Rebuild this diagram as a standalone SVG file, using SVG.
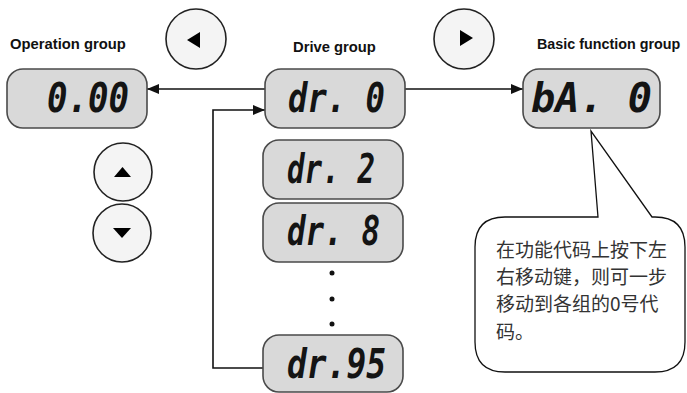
<svg xmlns="http://www.w3.org/2000/svg" width="687" height="393" viewBox="0 0 687 393">
<style>
.lbl{font-family:"Liberation Sans",Arial,sans-serif;font-weight:bold;font-size:15.5px;fill:#111}
.box{fill:#d9d9d9;stroke:#4a4a4a;stroke-width:1.6}
.seg{font-family:"DejaVu Sans Mono",monospace;font-weight:bold;font-style:italic;font-size:40px;fill:#141414}
.btn{fill:#f4f4f4;stroke:#222;stroke-width:1.6}
.tri{fill:#000}
.con{fill:none;stroke:#111;stroke-width:1.6}
.note{font-family:"Noto Sans CJK SC",sans-serif;font-size:19px;fill:#333}
</style>
<defs>
<marker id="ah" markerWidth="12" markerHeight="10" refX="12" refY="5" orient="auto" markerUnits="userSpaceOnUse">
<path d="M0,0 L12,5 L0,10 Z" fill="#111"/>
</marker>
</defs>
<text class="lbl" transform="translate(10,49) scale(0.955,1)">Operation group</text>
<text class="lbl" transform="translate(293,52) scale(0.954,1)">Drive group</text>
<text class="lbl" transform="translate(537,49) scale(0.925,1)">Basic function group</text>

<g id="connectors">
<path class="con" d="M265,89 H147" marker-end="url(#ah)"/>
<path class="con" d="M405,89 H523" marker-end="url(#ah)"/>
<path class="con" d="M263,368 H213 V110 H265" marker-end="url(#ah)"/>
</g>

<g id="btn-left"><circle class="btn" cx="196" cy="39" r="30"/><path class="tri" d="M187,40 L200,32 L200,48 Z"/></g>
<g id="btn-right"><circle class="btn" cx="464" cy="39" r="30"/><path class="tri" d="M473,38 L460,30 L460,46 Z"/></g>
<g id="btn-up"><circle class="btn" cx="123" cy="172" r="29"/><path class="tri" d="M114,177 L131,177 L122.5,167 Z"/></g>
<g id="btn-down"><circle class="btn" cx="122" cy="233" r="29"/><path class="tri" d="M113,228 L131,228 L122,238 Z"/></g>

<g id="op"><rect class="box" x="7" y="69" width="140" height="59" rx="16"/><text class="seg" x="47" y="112" textLength="82" lengthAdjust="spacingAndGlyphs">0.00</text></g>
<g id="dr0"><rect class="box" x="265" y="69" width="140" height="59" rx="16"/><text class="seg" x="288" y="112" textLength="97" lengthAdjust="spacingAndGlyphs">dr. 0</text></g>
<g id="ba0"><rect class="box" x="523" y="69" width="137" height="59" rx="16"/><text class="seg" x="531" y="112" textLength="121" lengthAdjust="spacingAndGlyphs">bA. 0</text></g>
<g id="dr2"><rect class="box" x="263" y="140" width="140" height="59" rx="16"/><text class="seg" x="287" y="183" textLength="88" lengthAdjust="spacingAndGlyphs">dr. 2</text></g>
<g id="dr8"><rect class="box" x="263" y="203" width="140" height="59" rx="16"/><text class="seg" x="287" y="245" textLength="93" lengthAdjust="spacingAndGlyphs">dr. 8</text></g>
<g id="dots"><circle cx="332" cy="273" r="2.5" fill="#111"/><circle cx="332" cy="299" r="2.5" fill="#111"/><circle cx="332" cy="324" r="2.5" fill="#111"/></g>
<g id="dr95"><rect class="box" x="263" y="335" width="140" height="57" rx="16"/><text class="seg" x="287" y="378" textLength="99" lengthAdjust="spacingAndGlyphs">dr.95</text></g>

<g id="callout">
<path d="M505,217 H598 L591,131 L652,217 H655 Q685,217 685,247 V342 Q685,372 655,372 H505 Q475,372 475,342 V247 Q475,217 505,217 Z" fill="#fff" stroke="#111" stroke-width="1.3"/>
<text class="note" x="496" y="257">在功能代码上按下左</text>
<text class="note" x="496" y="284">右移动键，则可一步</text>
<text class="note" x="496" y="311">移动到各组的0号代</text>
<text class="note" x="496" y="339">码。</text>
</g>
</svg>
